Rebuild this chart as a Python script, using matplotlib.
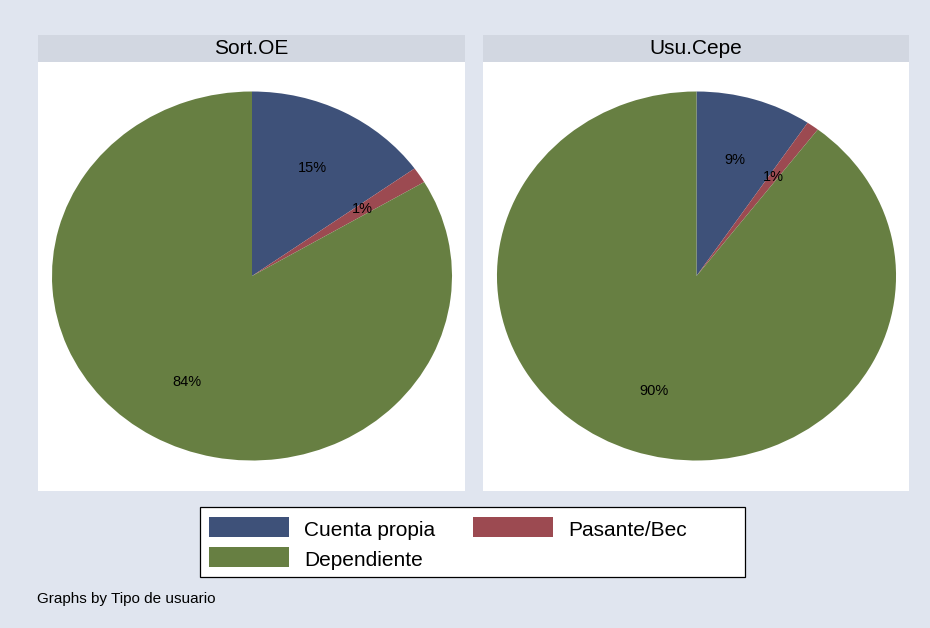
import matplotlib
matplotlib.use('Agg')
import matplotlib.pyplot as plt
from matplotlib.patches import Rectangle

plt.rcParams['font.family'] = ['Liberation Sans', 'DejaVu Sans']

# data (shares in %)
groups = ['Sort.OE', 'Usu.Cepe']
categories = ['Cuenta propia', 'Pasante/Bec', 'Dependiente']
sort_oe = [15.1, 1.4, 83.5]
usu_cepe = [9.4, 1.0, 89.6]
colors = ['#3e5179', '#9c4a51', '#677f42']

bg = '#e0e5ef'
strip = '#d2d7e1'

fig = plt.figure(figsize=(9.3, 6.28), dpi=100, facecolor=bg)
W, H = 930.0, 628.0

def fx(x):
    return x / W

def fy(y):
    return 1 - y / H

def panel(x0, x1, title, vals):
    # strip with the group name
    sax = fig.add_axes([fx(x0), fy(62), (x1 - x0) / W, 27 / H])
    sax.set_facecolor(strip)
    sax.set_xticks([]); sax.set_yticks([])
    for s in sax.spines.values():
        s.set_visible(False)
    fig.text(fx((x0 + x1) / 2), fy(54), title, ha='center', va='baseline', fontsize=15)

    ax = fig.add_axes([fx(x0), fy(491), (x1 - x0) / W, 429 / H])
    ax.set_facecolor('white')
    wedges, texts, autotexts = ax.pie(vals, colors=colors, startangle=90, counterclock=False,
                                      autopct='%1.0f%%', pctdistance=0.66,
                                      wedgeprops=dict(linewidth=0),
                                      textprops=dict(fontsize=10.5, color='black'))
    ax.set_aspect('auto')
    ax.set_frame_on(True)
    for s in ax.spines.values():
        s.set_visible(False)
    ax.set_xlim(-214 / 200.0, 213 / 200.0)
    ax.set_ylim(-215 / 184.5, 214 / 184.5)
    return wedges

panel(38, 465, groups[0], sort_oe)
panel(483, 909, groups[1], usu_cepe)

# legend box drawn by hand: row 1 Cuenta propia, Pasante/Bec ; row 2 Dependiente
fig.patches.append(Rectangle((fx(200), fy(577)), 545 / W, 70 / H, transform=fig.transFigure,
                             facecolor='white', edgecolor='black', linewidth=0.9))
slots = [(209, 517, 304, 536), (473, 517, 568, 536), (209, 547, 304, 566)]
for (px, py, tx, ty), lab, col in zip(slots, categories, colors):
    fig.patches.append(Rectangle((fx(px), fy(py + 20)), 80 / W, 20 / H, transform=fig.transFigure,
                                 facecolor=col, edgecolor='none'))
    fig.text(fx(tx), fy(ty), lab, fontsize=15, ha='left', va='baseline')

fig.text(fx(37), fy(603), 'Graphs by Tipo de usuario', fontsize=11, va='baseline', ha='left')

fig.savefig('out.png', dpi=100, facecolor=bg)
